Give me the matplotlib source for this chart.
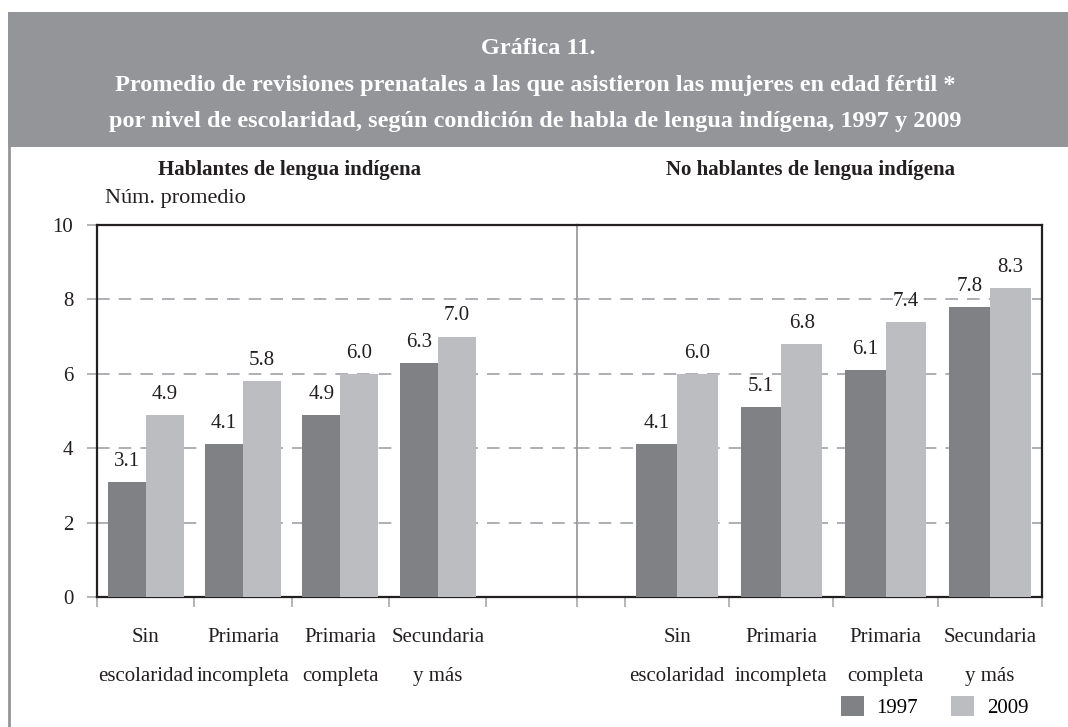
import matplotlib.pyplot as plt
from matplotlib.patches import Rectangle
import numpy as np

plt.rcParams['font.family'] = ['Liberation Serif', 'DejaVu Serif']

categorias = ['Sin\nescolaridad', 'Primaria\nincompleta', 'Primaria\ncompleta', 'Secundaria\ny más']
hablantes_1997 = [3.1, 4.1, 4.9, 6.3]
hablantes_2009 = [4.9, 5.8, 6.0, 7.0]
no_hablantes_1997 = [4.1, 5.1, 6.1, 7.8]
no_hablantes_2009 = [6.0, 6.8, 7.4, 8.3]
yticks = [0, 2, 4, 6, 8, 10]

c97 = '#808184'
c09 = '#bcbdc0'
banda = '#939598'
gris = '#a7a9ac'

fig = plt.figure(figsize=(10.68, 7.27), dpi=100)

# banda del titulo
fig.patches.append(Rectangle((8/1068, 1-147/727), 1, 135/727, transform=fig.transFigure,
                             facecolor=banda, edgecolor='none', zorder=0))
fig.add_artist(plt.Line2D([8.5/1068, 8.5/1068], [0, 1-147/727], color=banda, lw=2,
                          transform=fig.transFigure))
fig.text(538/1068, 1-48/727, 'Gráfica 11.', color='white', fontsize=17.5, fontweight='bold',
         ha='center', va='center')
fig.text(535/1068, 1-85/727,
         'Promedio de revisiones prenatales a las que asistieron las mujeres en edad fértil *',
         color='white', fontsize=17.5, fontweight='bold', ha='center', va='center')
fig.text(535/1068, 1-122/727,
         'por nivel de escolaridad, según condición de habla de lengua indígena, 1997 y 2009',
         color='white', fontsize=17.5, fontweight='bold', ha='center', va='center')

L, R, B, T = 97/1068, 1042/1068, 1-597/727, 1-225/727
D = 577/1068
ax1 = fig.add_axes([L, B, D-L, T-B])
ax2 = fig.add_axes([D, B, R-D, T-B])
ax2.patch.set_visible(False)

w = 0.39
x = np.arange(len(categorias))
paneles = [(ax1, hablantes_1997, hablantes_2009, (-0.5, 4.43), [-0.5, 0.5, 1.5, 2.5, 3.5]),
           (ax2, no_hablantes_1997, no_hablantes_2009, (-0.96, 3.5), [-0.96, -0.5, 0.5, 1.5, 2.5, 3.5])]
for ax, v97, v09, lim, mt in paneles:
    b1 = ax.bar(x - w/2, v97, w, color=c97, zorder=3, label='1997')
    b2 = ax.bar(x + w/2, v09, w, color=c09, zorder=3, label='2009')
    ax.bar_label(b1, fmt='%.1f', padding=8, fontsize=15, color='#231f20')
    ax.bar_label(b2, fmt='%.1f', padding=8, fontsize=15, color='#231f20')
    ax.set_xlim(*lim)
    ax.set_ylim(0, 10)
    ax.set_yticks(yticks)
    ax.set_xticks(mt)
    ax.set_xticklabels([])
    ax.set_xticks(x, minor=True)
    ax.set_xticklabels(categorias, minor=True, fontsize=15, linespacing=2.45, color='#231f20')
    ax.tick_params(axis='x', which='minor', length=0, pad=22)
    ax.tick_params(axis='x', which='major', length=7, color=gris, width=1.2)
    ax.grid(axis='y', color=gris, linestyle=(0, (7, 5)), lw=1.3, zorder=1)
    for s in ['top', 'bottom', 'left', 'right']:
        ax.spines[s].set_color('#231f20')
        ax.spines[s].set_linewidth(1.6)

ax1.spines['right'].set_color('#8a8a8a')
ax1.spines['right'].set_linewidth(1.1)
ax1.spines['right'].set_zorder(5)
ax2.spines['left'].set_visible(False)
ax1.tick_params(axis='y', length=7, color=gris, width=1.2, pad=10, labelsize=15, labelcolor='#231f20')
ax2.tick_params(axis='y', length=0, labelleft=False)

fig.text(290/1068, 1-170/727, 'Hablantes de lengua indígena', fontsize=15, fontweight='bold',
         ha='center', va='center', color='#231f20')
fig.text(810/1068, 1-170/727, 'No hablantes de lengua indígena', fontsize=15, fontweight='bold',
         ha='center', va='center', color='#231f20')
fig.text(105/1068, 1-198/727, 'Núm. promedio', fontsize=16, ha='left', va='center', color='#231f20')

h, l = ax1.get_legend_handles_labels()
fig.legend(h, l, loc='lower right', bbox_to_anchor=(1047/1068, -10/727), ncol=2, frameon=False,
           fontsize=15, handlelength=1.1, handleheight=1.1, columnspacing=1.6, handletextpad=0.6)

fig.savefig('out.png', dpi=100)
